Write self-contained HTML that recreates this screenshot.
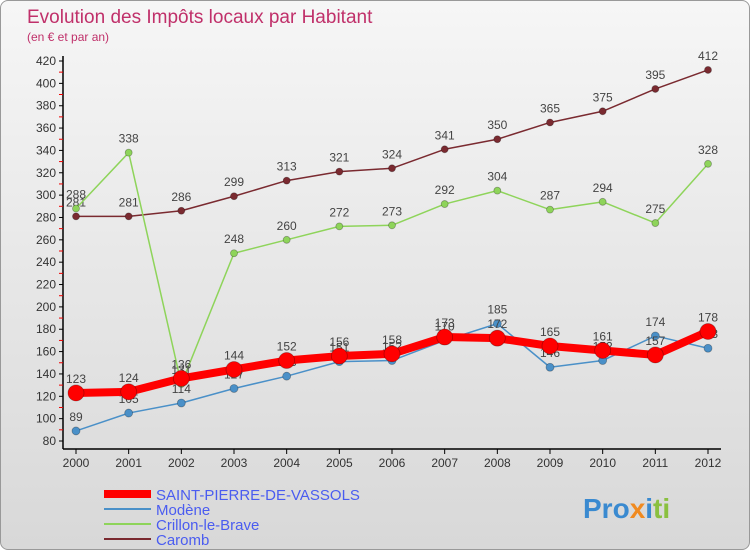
<!DOCTYPE html>
<html><head><meta charset="utf-8"><style>
body{margin:0;width:750px;height:550px;overflow:hidden;font-family:"Liberation Sans",sans-serif}
#wrap{position:absolute;left:0;top:0;width:748px;height:548px;border:1px solid #999;border-radius:8px;background:linear-gradient(#f6f6f6,#d8d8d8);overflow:hidden}
</style></head><body>
<div id="wrap">
<svg id="svg" width="750" height="550" xmlns="http://www.w3.org/2000/svg">
<text x="26" y="22" font-size="19" fill="#c0306a">Evolution des Impôts locaux par Habitant</text>
<text x="26" y="40" font-size="12" fill="#c0306a">(en € et par an)</text>
<g id="axes"></g><g id="series"></g>
<g>
<line x1="103" y1="493" x2="150" y2="493" stroke="#f00" stroke-width="8"/>
<text x="155" y="499" font-size="15" fill="#4a5cf0">SAINT-PIERRE-DE-VASSOLS</text>
<line x1="103" y1="508" x2="150" y2="508" stroke="#4a90c8" stroke-width="2"/>
<text x="155" y="514" font-size="15" fill="#4a5cf0">Modène</text>
<line x1="103" y1="523" x2="150" y2="523" stroke="#8ed45a" stroke-width="2"/>
<text x="155" y="529" font-size="15" fill="#4a5cf0">Crillon-le-Brave</text>
<line x1="103" y1="538" x2="150" y2="538" stroke="#7a2a30" stroke-width="2"/>
<text x="155" y="544" font-size="15" fill="#4a5cf0">Caromb</text>
</g>
<text x="582" y="517" font-size="28" font-weight="bold" fill="#3a8ad0">Pro<tspan fill="#f08a20">x</tspan><tspan fill="#3a8ad0">i</tspan><tspan fill="#8ac040">ti</tspan></text>
</svg></div>
<script>
const years=[2000,2001,2002,2003,2004,2005,2006,2007,2008,2009,2010,2011,2012];
const yTicks=[80,100,120,140,160,180,200,220,240,260,280,300,320,340,360,380,400,420];
const caromb=[281,281,286,299,313,321,324,341,350,365,375,395,412];
const crillon=[288,338,131,248,260,272,273,292,304,287,294,275,328];
const modene=[89,105,114,127,138,151,152,170,185,146,152,174,163];
const stPierre=[123,124,136,144,152,156,158,173,172,165,161,157,178];
const NS="http://www.w3.org/2000/svg";
const X=i=>75+i*(707-75)/(years.length-1);
const Y=v=>440-(v-80)*(380/340);
function mk(t,a,p){const e=document.createElementNS(NS,t);for(const k in a)e.setAttribute(k,a[k]);p.appendChild(e);return e;}
const ax=document.getElementById('axes'),sg=document.getElementById('series');
const yAxis=mk('line',{x1:62,y1:55,x2:62,y2:448,stroke:'#000','stroke-width':1.5},ax);


const xAxis=mk('line',{x1:62,y1:448,x2:720,y2:448,stroke:'#000','stroke-width':1.5},ax);


yTicks.forEach((v,k)=>{
  mk('line',{x1:58,y1:Y(v),x2:62,y2:Y(v),stroke:'#000'},ax);
  if(k<yTicks.length-1)mk('line',{x1:58,y1:Y(v+10),x2:62,y2:Y(v+10),stroke:'#e00'},ax);
  const t=mk('text',{x:55,y:Y(v)+4,'font-size':12,fill:'#333','text-anchor':'end'},ax);t.textContent=v;
  
  
});
years.forEach((y,i)=>{
  mk('line',{x1:X(i),y1:448,x2:X(i),y2:453,stroke:'#000'},ax);
  const t=mk('text',{x:X(i),y:466,'font-size':12,fill:'#333','text-anchor':'middle'},ax);t.textContent=y;
  
  
});
function series(d,color,w,r,name){
  const g=mk('g',{},sg);
  
  
  mk('polyline',{points:d.map((v,i)=>X(i)+','+Y(v)).join(' '),fill:'none',stroke:color,'stroke-width':w,'stroke-linejoin':'round'},g);
  d.forEach((v,i)=>{
    const c=mk('circle',{cx:X(i),cy:Y(v),r:r,fill:color,stroke:'rgba(0,0,0,0.3)','stroke-width':0.8},g);
    
    
    const t=mk('text',{x:X(i),y:Y(v)-10,'font-size':12,fill:'#444','text-anchor':'middle'},g);t.textContent=v;
    
    
  });
}
series(caromb,'#7a2a30',1.5,3.5,'series-caromb');
series(crillon,'#8ed45a',1.5,3.5,'series-crillon');
series(modene,'#4a90c8',1.5,4,'series-modene');
series(stPierre,'#f00',8,8,'series-saint-pierre');
</script>
</body></html>
